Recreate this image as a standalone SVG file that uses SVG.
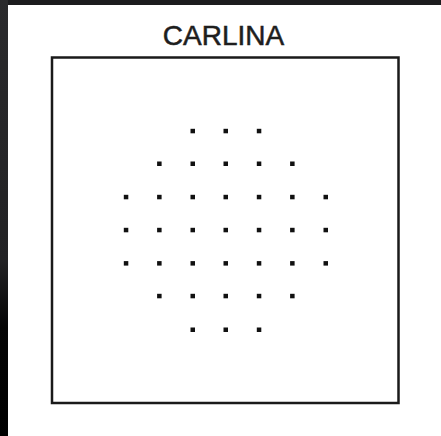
<svg xmlns="http://www.w3.org/2000/svg" width="441" height="436" viewBox="0 0 441 436">
<defs>
<linearGradient id="lg" x1="0" y1="0" x2="0" y2="1">
<stop offset="0" stop-color="#2a2a2c"/>
<stop offset="0.6" stop-color="#222224"/>
<stop offset="0.75" stop-color="#050505"/>
<stop offset="1" stop-color="#000"/>
</linearGradient>
<style>
.d{fill:#111}
.t{font-family:"Liberation Sans",Arial,sans-serif;font-size:28px;fill:#1e1e1e;stroke:#1e1e1e;stroke-width:0.5;text-anchor:middle}
</style>
</defs>
<rect x="0" y="0" width="441" height="436" fill="#fff"/>
<rect x="0" y="0" width="441" height="5" fill="#1c1c1e"/>
<rect x="0" y="0" width="8" height="436" fill="url(#lg)"/>
<g id="title"><text class="t" x="223.5" y="45">CARLINA</text></g>
<g id="frame"><rect x="52" y="57.5" width="346.5" height="345.5" fill="none" stroke="#1a1a1a" stroke-width="2.5"/></g>
<g id="dots">
<rect class="d" x="190.5" y="128.8" width="4.5" height="4.5"/><rect class="d" x="223.5" y="128.8" width="4.5" height="4.5"/><rect class="d" x="256.8" y="128.8" width="4.5" height="4.5"/>
<rect class="d" x="157.1" y="161.5" width="4.5" height="4.5"/><rect class="d" x="190.5" y="161.5" width="4.5" height="4.5"/><rect class="d" x="223.5" y="161.5" width="4.5" height="4.5"/><rect class="d" x="256.8" y="161.5" width="4.5" height="4.5"/><rect class="d" x="290.1" y="161.5" width="4.5" height="4.5"/>
<rect class="d" x="123.8" y="194.8" width="4.5" height="4.5"/><rect class="d" x="157.1" y="194.8" width="4.5" height="4.5"/><rect class="d" x="190.5" y="194.8" width="4.5" height="4.5"/><rect class="d" x="223.5" y="194.8" width="4.5" height="4.5"/><rect class="d" x="256.8" y="194.8" width="4.5" height="4.5"/><rect class="d" x="290.1" y="194.8" width="4.5" height="4.5"/><rect class="d" x="323.5" y="194.8" width="4.5" height="4.5"/>
<rect class="d" x="123.8" y="227.8" width="4.5" height="4.5"/><rect class="d" x="157.1" y="227.8" width="4.5" height="4.5"/><rect class="d" x="190.5" y="227.8" width="4.5" height="4.5"/><rect class="d" x="223.5" y="227.8" width="4.5" height="4.5"/><rect class="d" x="256.8" y="227.8" width="4.5" height="4.5"/><rect class="d" x="290.1" y="227.8" width="4.5" height="4.5"/><rect class="d" x="323.5" y="227.8" width="4.5" height="4.5"/>
<rect class="d" x="123.8" y="261.1" width="4.5" height="4.5"/><rect class="d" x="157.1" y="261.1" width="4.5" height="4.5"/><rect class="d" x="190.5" y="261.1" width="4.5" height="4.5"/><rect class="d" x="223.5" y="261.1" width="4.5" height="4.5"/><rect class="d" x="256.8" y="261.1" width="4.5" height="4.5"/><rect class="d" x="290.1" y="261.1" width="4.5" height="4.5"/><rect class="d" x="323.5" y="261.1" width="4.5" height="4.5"/>
<rect class="d" x="157.1" y="293.8" width="4.5" height="4.5"/><rect class="d" x="190.5" y="293.8" width="4.5" height="4.5"/><rect class="d" x="223.5" y="293.8" width="4.5" height="4.5"/><rect class="d" x="256.8" y="293.8" width="4.5" height="4.5"/><rect class="d" x="290.1" y="293.8" width="4.5" height="4.5"/>
<rect class="d" x="190.5" y="327.5" width="4.5" height="4.5"/><rect class="d" x="223.5" y="327.5" width="4.5" height="4.5"/><rect class="d" x="256.8" y="327.5" width="4.5" height="4.5"/>
</g>
</svg>
